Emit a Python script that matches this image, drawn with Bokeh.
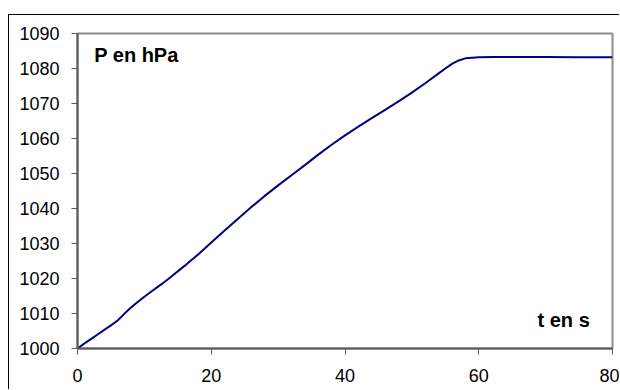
from bokeh.plotting import figure
from bokeh.models import Range1d, FixedTicker, Label
from bokeh.embed import file_html
from bokeh.resources import INLINE

# data
t_s = [0, 1, 2, 3, 4, 5, 6, 7, 8, 9, 10, 11, 12, 13, 14, 16, 17, 18, 20, 22, 24, 26, 28, 30,
       32, 34, 36, 38, 40, 42, 44, 46, 48, 50, 52, 54, 55, 56, 57, 58, 59, 60, 62, 66, 70, 75, 80]
p_hpa = [1000, 1001.4, 1002.7, 1004.0, 1005.3, 1006.6, 1008.0, 1009.9, 1011.7, 1013.3, 1014.8,
         1016.2, 1017.6, 1019.0, 1020.5, 1023.6, 1025.2, 1026.8, 1030.3, 1033.7, 1037.1, 1040.4,
         1043.6, 1046.6, 1049.5, 1052.4, 1055.4, 1058.2, 1060.9, 1063.4, 1065.8, 1068.2, 1070.6,
         1073.1, 1075.8, 1078.6, 1080.0, 1081.3, 1082.3, 1082.9, 1083.1, 1083.2, 1083.3, 1083.3,
         1083.3, 1083.2, 1083.2]
x_ticks = [0, 20, 40, 60, 80]
y_ticks = [1000, 1010, 1020, 1030, 1040, 1050, 1060, 1070, 1080, 1090]
y_label = "P en hPa"
x_label = "t en s"

FONT = "Liberation Sans"

p = figure(width=611, height=375, output_backend="svg", toolbar_location=None,
           x_range=Range1d(0, 80), y_range=Range1d(1000, 1090),
           min_border_left=68, min_border_top=18, min_border_right=8, min_border_bottom=42)
p.styles = {"margin-top": "14px", "margin-left": "8px",
            "border-top": "1px solid black", "border-left": "1px solid black"}

p.background_fill_color = "white"
p.border_fill_color = "white"
p.outline_line_color = "#8c8c8c"
p.outline_line_width = 2
p.xgrid.visible = False
p.ygrid.visible = False

for ax, ticks in ((p.xaxis[0], x_ticks), (p.yaxis[0], y_ticks)):
    ax.ticker = FixedTicker(ticks=ticks)
    ax.axis_line_color = "#5a5a5a"
    ax.axis_line_width = 2
    ax.major_tick_line_color = "#5a5a5a"
    ax.major_tick_line_width = 1
    ax.major_tick_out = 6
    ax.major_tick_in = 0
    ax.minor_tick_line_color = None
    ax.major_label_text_font = FONT
    ax.major_label_text_font_size = "18px"
    ax.major_label_text_color = "black"

p.xaxis.major_label_standoff = 14
p.yaxis.major_label_standoff = 12

p.line(t_s, p_hpa, line_color="#000080", line_width=2)

p.add_layout(Label(x=2.5, y=1083.8, text=y_label, text_font=FONT, text_font_size="20px",
                   text_font_style="bold", text_color="black", text_baseline="alphabetic"))
p.add_layout(Label(x=76.6, y=1008.2, text=x_label, text_font=FONT, text_font_size="20px",
                   text_font_style="bold", text_color="black", text_align="right",
                   text_baseline="alphabetic"))

open("out.html", "w").write(file_html(p, INLINE))
